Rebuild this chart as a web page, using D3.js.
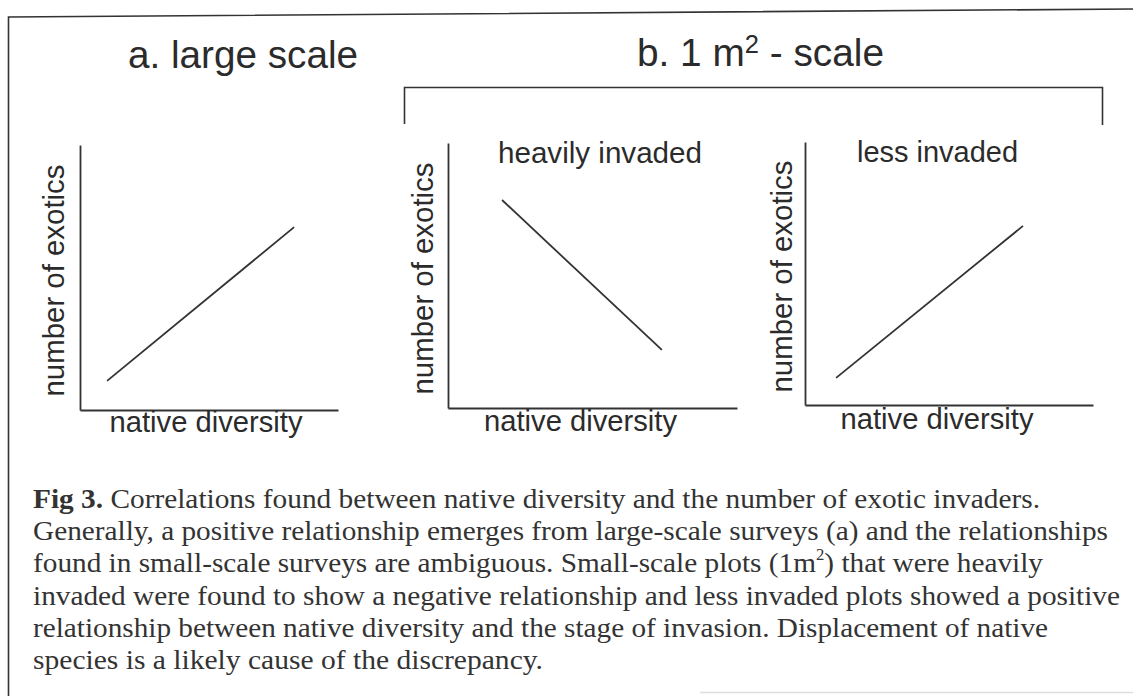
<!DOCTYPE html>
<html>
<head>
<meta charset="utf-8">
<script src="https://cdn.jsdelivr.net/npm/d3@7"></script>
<style>
  body { margin: 0; background: #fff; }
  svg { display: block; }
</style>
</head>
<body>
<div id="chart"></div>
<script>
// Labels
const panelTitles = ["", "heavily invaded", "less invaded"];
const xLabel = "native diversity";
const yLabel = "number of exotics";

// Schematic relationships (0-10 units on both axes)
const largeScaleLine = [{x: 1.05, y: 1.1}, {x: 8.3, y: 6.9}];
const heavilyInvadedLine = [{x: 1.87, y: 7.85}, {x: 7.4, y: 2.19}];
const lessInvadedLine = [{x: 1.08, y: 1.03}, {x: 7.57, y: 6.81}];

const captionLines = [
    " Correlations found between native diversity and the number of exotic invaders.",
    "Generally, a positive relationship emerges from large-scale surveys (a) and the relationships",
    "found in small-scale surveys are ambiguous. Small-scale plots (1m",
    "invaded were found to show a negative relationship and less invaded plots showed a positive",
    "relationship between native diversity and the stage of invasion. Displacement of native",
    "species is a likely cause of the discrepancy."
];

function initChart() {
    let width = 1133, height = 696;
    let ink = "#2b2b2b";
    let sans = "Liberation Sans, Arial, sans-serif";

    let svg = d3.select("#chart").append("svg")
        .attr("width", width)
        .attr("height", height);

    // frame of the scanned figure
    svg.append("path")
        .attr("d", "M8.5,696V17L1133,9")
        .attr("fill", "none")
        .attr("stroke", "#333")
        .attr("stroke-width", 1.6);
    svg.append("line")
        .attr("x1", 700).attr("x2", 1133)
        .attr("y1", 692.5).attr("y2", 692.5)
        .attr("stroke", "#ddd").attr("stroke-width", 1.5);

    // top titles
    svg.append("text")
        .attr("x", 128).attr("y", 68)
        .attr("font-family", sans)
        .attr("font-size", 38)
        .attr("fill", ink)
        .attr("textLength", 230)
        .attr("lengthAdjust", "spacingAndGlyphs")
        .text("a. large scale");

    let tb = svg.append("text")
        .attr("x", 637).attr("y", 66)
        .attr("font-family", sans)
        .attr("font-size", 38)
        .attr("fill", ink)
        .attr("textLength", 247)
        .attr("lengthAdjust", "spacingAndGlyphs");
    tb.append("tspan").text("b. 1 m");
    tb.append("tspan").attr("font-size", 25).attr("dy", -13).text("2");
    tb.append("tspan").attr("dy", 13).text(" - scale");

    // bracket over the two 1 m2 panels
    svg.append("path")
        .attr("d", "M404.5,124V87.5H1102.5V125")
        .attr("fill", "none")
        .attr("stroke", "#333")
        .attr("stroke-width", 1.6);

    let panels = [
        {data: largeScaleLine, left: 80, right: 338, top: 145, bottom: 410, yLabX: 64, xLabY: 432},
        {data: heavilyInvadedLine, left: 448, right: 737, top: 143, bottom: 408, yLabX: 433, xLabY: 431},
        {data: lessInvadedLine, left: 805, right: 1093, top: 142, bottom: 405, yLabX: 792, xLabY: 429}
    ];

    panels.forEach(function(p, i) {
        let x = d3.scaleLinear().domain([0, 10]).range([p.left, p.right]);
        let y = d3.scaleLinear().domain([0, 10]).range([p.bottom, p.top]);

        let g = svg.append("g");

        // bare axes, no ticks
        g.append("g")
            .attr("transform", "translate(" + p.left + ",0)")
            .call(d3.axisLeft(y).tickValues([]).tickSizeOuter(0))
            .select(".domain").attr("stroke", "#333").attr("stroke-width", 1.8);
        g.append("g")
            .attr("transform", "translate(0," + p.bottom + ")")
            .call(d3.axisBottom(x).tickValues([]).tickSizeOuter(0))
            .select(".domain").attr("stroke", "#333").attr("stroke-width", 1.8);

        g.append("path")
            .datum(p.data)
            .attr("fill", "none")
            .attr("stroke", "#333")
            .attr("stroke-width", 1.8)
            .attr("d", d3.line().x(d => x(d.x)).y(d => y(d.y)));

        // axis labels
        g.append("text")
            .attr("x", (p.left + p.right) / 2 - (i == 0 ? 3 : 12))
            .attr("y", p.xLabY)
            .attr("text-anchor", "middle")
            .attr("font-family", sans)
            .attr("font-size", 29)
            .attr("fill", ink)
            .attr("textLength", 193)
            .attr("lengthAdjust", "spacingAndGlyphs")
            .text(xLabel);

        g.append("text")
            .attr("transform", "translate(" + p.yLabX + "," + ((p.top + p.bottom) / 2 + 3) + ") rotate(-90)")
            .attr("text-anchor", "middle")
            .attr("font-family", sans)
            .attr("font-size", 29)
            .attr("fill", ink)
            .attr("textLength", 232)
            .attr("lengthAdjust", "spacingAndGlyphs")
            .text(yLabel);

        if (panelTitles[i]) {
            g.append("text")
                .attr("x", p.left + (i == 1 ? 50 : 52))
                .attr("y", p.top + 20)
                .attr("font-family", sans)
                .attr("font-size", 29)
                .attr("fill", ink)
                .attr("textLength", i == 1 ? 204 : 161)
                .attr("lengthAdjust", "spacingAndGlyphs")
                .text(panelTitles[i]);
        }
    });

    // caption
    let lineEnds = [1040, 1108, 1043, 1120, 1048, 543];
    captionLines.forEach(function(line, i) {
        let t = svg.append("text")
            .attr("x", 33)
            .attr("y", 508 + i * 32.2)
            .attr("font-family", "Liberation Serif, Times New Roman, serif")
            .attr("font-size", 28)
            .attr("fill", "#333")
            .attr("textLength", lineEnds[i] - 33)
            .attr("lengthAdjust", "spacingAndGlyphs");
        if (i == 0) {
            t.append("tspan").attr("font-weight", "bold").text("Fig 3.");
            t.append("tspan").text(line);
        } else if (i == 2) {
            t.append("tspan").text(line);
            t.append("tspan").attr("font-size", 16).attr("dy", -12).text("2");
            t.append("tspan").attr("dy", 12).text(") that were heavily");
        } else {
            t.text(line);
        }
    });
}

initChart();
</script>
</body>
</html>
